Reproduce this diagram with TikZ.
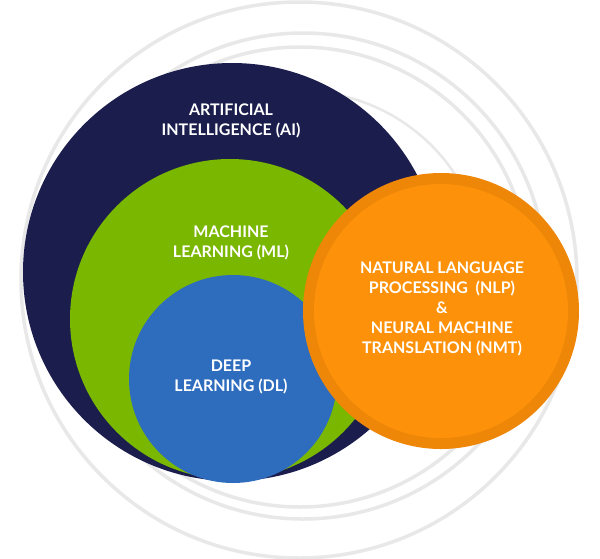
\documentclass[tikz,border=0pt]{standalone}
\usepackage{fontspec}
\setmainfont{Lato}
\usepackage{xcolor}
\usepackage{tikz}
\usetikzlibrary{positioning,calc}

\definecolor{ainavy}{RGB}{27,29,77}
\definecolor{mlgreen}{RGB}{122,183,0}
\definecolor{dlblue}{RGB}{46,108,190}
\definecolor{nlprim}{RGB}{238,134,8}
\definecolor{nlpfill}{RGB}{253,146,10}
\definecolor{ringgray}{RGB}{232,232,232}

\begin{document}
\begin{tikzpicture}[x=1pt, y=-1pt,
    disc/.style={circle, inner sep=0pt, draw=none},
    ring/.style={draw=ringgray, line width=3.5pt},
    label/.style={text=white, font=\fontsize{16}{20}\selectfont\bfseries, align=center}
]
\useasboundingbox (0,0) rectangle (600,558);
\fill[white] (0,0) rectangle (600,558);

% rings behind
\coordinate (rc1) at (299,280);
\coordinate (rc2) at (303,276);
\coordinate (rc3) at (300,277);
\draw[ring] (rc1) circle (278pt);
\draw[ring] (rc2) circle (243pt);
\draw[ring] (rc3) circle (230pt);
\draw[ring, line width=2.5pt] (rc3) ++(78:186pt) arc[start angle=78, end angle=28, radius=186pt];

% AI
\node[disc, fill=ainavy, minimum size=418pt] (ai) at (232,272) {};
\node[label] (aitext) at (231,121) {ARTIFICIAL\\INTELLIGENCE (AI)};

% ML
\node[disc, fill=mlgreen, minimum size=320pt] (ml) at (230,319) {};
\node[label] (mltext) at (231,243) {MACHINE\\LEARNING (ML)};

% DL
\node[disc, fill=dlblue, minimum size=208pt] (dl) at (233,379) {};
\node[label] (dltext) at (231,377) {DEEP\\LEARNING (DL)};

% NLP & NMT
\node[disc, fill=nlprim, minimum size=276pt] (nlp) at (441,311) {};
\node[disc, fill=nlpfill, minimum size=254pt] (nlpin) at (nlp.center) {};
\node[label] (nlptext) at (442,309) {NATURAL LANGUAGE\\PROCESSING\ \ (NLP)\\\&\\NEURAL MACHINE\\TRANSLATION (NMT)};

\end{tikzpicture}
\end{document}
